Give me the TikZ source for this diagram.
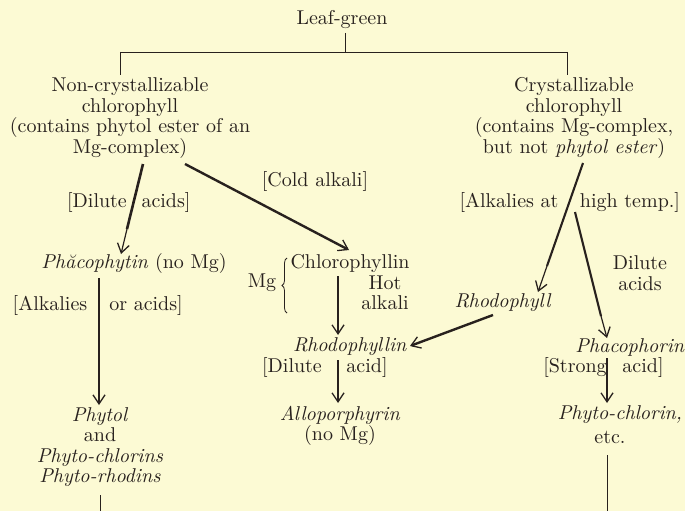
\documentclass[tikz,border=0pt]{standalone}
\usepackage{fontspec}
\setmainfont{lmroman10-regular.otf}[ItalicFont=lmroman10-italic.otf,BoldFont=lmroman10-bold.otf]
\usetikzlibrary{arrows.meta,decorations.pathreplacing}
\definecolor{paper}{RGB}{252,250,212}
\definecolor{ink}{RGB}{40,33,30}
\begin{document}
\begin{tikzpicture}[x=1pt,y=-1pt,
  every node/.style={text=ink,font=\fontsize{20}{20.5}\selectfont,inner sep=0pt,align=center},
  thin line/.style={draw=ink,line width=0.8pt},
  shaft/.style={draw=ink,line width=2.6pt},
  thick arrow/.style={draw=ink,line width=2.4pt,-{Straight Barb[length=9pt,width=12pt,line width=1.3pt]}},
  tip arrow/.style={draw=ink,line width=1.2pt,-{Straight Barb[length=9pt,width=12pt,line width=1.3pt]}}]
\fill[paper] (0,0) rectangle (685,511);
\useasboundingbox (0,0) rectangle (685,511);

% top tree
\node (leaf) at (342,20) {Leaf-green};
\node (noncrys) at (130,118) {Non-crystallizable\\chlorophyll\\(contains phytol ester of an\\Mg-complex)};
\node (crys) at (574,118) {Crystallizable\\chlorophyll\\(contains Mg-complex,\\but not \textit{phytol ester})};
\coordinate (t0) at (345,33);
\coordinate (tj) at (345,52);
\coordinate (tl) at (120,52);
\coordinate (tr) at (567,52);
\coordinate (tlb) at (120,75);
\coordinate (trb) at (567,75);
\draw[thin line] (t0) -- (tj);
\draw[thin line] (tl) -- (tr);
\draw[thin line] (tl) -- (tlb);
\draw[thin line] (tr) -- (trb);

% left branch
\node (dil1) at (97,202) {[Dilute};
\node (dil2) at (166,202) {acids]};
\node (phaeo) at (134,263) {\textit{Phăcophytin} (no Mg)};
\coordinate (a1s) at (143,164);
\coordinate (a1m) at (127,229);
\coordinate (a1e) at (121,254);
\draw[shaft] (a1s) -- (a1m);
\draw[tip arrow] (a1m) -- (a1e);
\node (alk1) at (50,305) {[Alkalies};
\node (alk2) at (146,305) {or acids]};
\coordinate (a2s) at (99,278);
\coordinate (a2m) at (99,382);
\coordinate (a2e) at (99,405);
\draw[shaft] (a2s) -- (a2m);
\draw[tip arrow] (a2m) -- (a2e);
\node (phytol) at (100,447) {\fontsize{20}{21.5}\selectfont\textit{Phytol}\\and\\\textit{Phyto-chlorins}\\\textit{Phyto-rhodins}};
\coordinate (b1s) at (100,495);
\coordinate (b1e) at (100,511);
\draw[thin line] (b1s) -- (b1e);

% middle branch
\node (cold) at (315,181) {[Cold alkali]};
\coordinate (a3s) at (185,164);
\coordinate (a3e) at (349,250);
\draw[thick arrow] (a3s) -- (a3e);
\node (chlin) at (350,263) {Chlorophyllin};
\node (mg) at (262,283) {Mg};
\coordinate (brb) at (287,313);
\coordinate (brt) at (287,258);
\draw[ink,line width=0.8pt,decorate,decoration={brace,amplitude=5pt}] (brb) -- (brt);
\node (hot) at (385,293) {Hot\\alkali};
\coordinate (a4s) at (338,276);
\coordinate (a4m) at (338,317);
\coordinate (a4e) at (338,335);
\draw[shaft] (a4s) -- (a4m);
\draw[tip arrow] (a4m) -- (a4e);
\node (rhlin) at (350,347) {\textit{Rhodophyllin}};
\node (dil3) at (292,367) {[Dilute};
\node (dil4) at (367,367) {acid]};
\coordinate (a5s) at (338,360);
\coordinate (a5m) at (338,378);
\coordinate (a5e) at (338,403);
\draw[shaft] (a5s) -- (a5m);
\draw[tip arrow] (a5m) -- (a5e);
\node (allo) at (340,426) {\textit{Alloporphyrin}\\(no Mg)};

% right branch
\node (alk3) at (509,202) {[Alkalies at};
\node (alk4) at (630,202) {high temp.]};
\coordinate (a6s) at (583,163);
\coordinate (a6m) at (547,266);
\coordinate (a6e) at (538,292);
\draw[shaft,line width=2.1pt] (a6s) -- (a6m);
\draw[tip arrow] (a6m) -- (a6e);
\node (rhod) at (503,303) {\textit{Rhodophyll}};
\coordinate (a7s) at (493,315);
\coordinate (a7e) at (410,346);
\draw[thick arrow] (a7s) -- (a7e);
\coordinate (a8s) at (575,212);
\coordinate (a8m) at (601,316);
\coordinate (a8e) at (607,338);
\draw[shaft,line width=2.1pt] (a8s) -- (a8m);
\draw[tip arrow] (a8m) -- (a8e);
\node (dil5) at (640,273) {Dilute\\acids};
\node (phaco) at (630,347) {\textit{Phacophorin}};
\node (str1) at (575,367) {[Strong};
\node (str2) at (643,367) {acid]};
\coordinate (a9s) at (607,358);
\coordinate (a9m) at (607,380);
\coordinate (a9e) at (607,403);
\draw[shaft] (a9s) -- (a9m);
\draw[tip arrow] (a9m) -- (a9e);
\node (phch) at (620,415) {\textit{Phyto-chlorin,}};
\node (etc) at (610,437) {etc.};
\coordinate (b2s) at (607,455);
\coordinate (b2e) at (607,511);
\draw[thin line] (b2s) -- (b2e);
\end{tikzpicture}
\end{document}
